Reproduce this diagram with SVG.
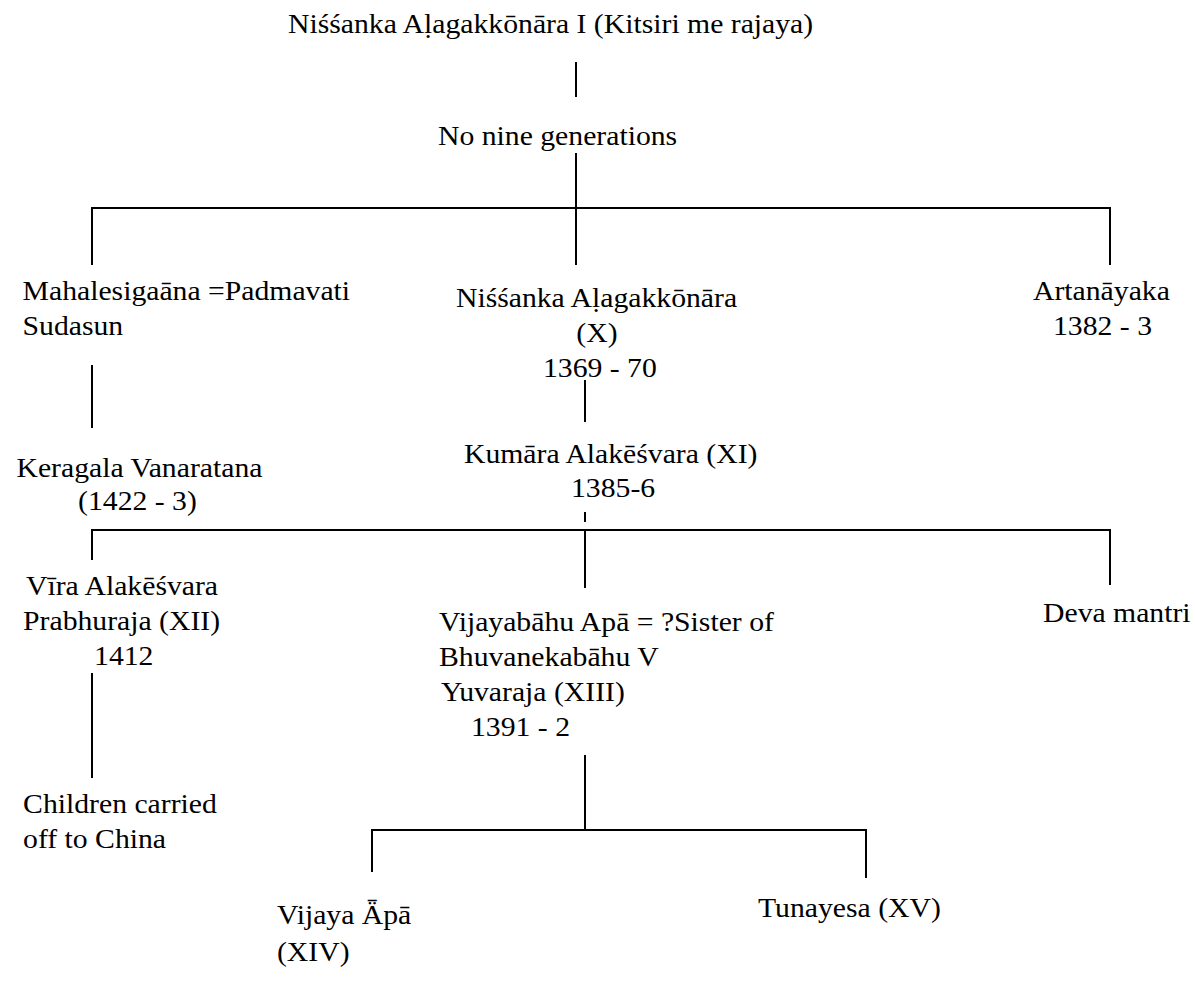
<svg xmlns="http://www.w3.org/2000/svg" width="1195" height="982" viewBox="0 0 1195 982">
<style>
text{font-family:'Liberation Serif','Times New Roman',serif;font-size:27px;fill:#000}
.c{text-anchor:middle}
line{stroke:#000;stroke-width:2}
</style>
<rect width="1195" height="982" fill="#fff"/>
<g id="connectors">
<line x1="576" y1="62" x2="576" y2="97"/>
<line x1="576" y1="153" x2="576" y2="208"/>
<line x1="92" y1="208" x2="1110" y2="208"/>
<line x1="92" y1="207" x2="92" y2="265"/>
<line x1="576" y1="208" x2="576" y2="265"/>
<line x1="1110" y1="207" x2="1110" y2="265"/>
<line x1="92" y1="365" x2="92" y2="428"/>
<line x1="585" y1="380" x2="585" y2="422"/>
<line x1="585" y1="512" x2="585" y2="522"/>
<line x1="92" y1="530" x2="1110" y2="530"/>
<line x1="585" y1="530" x2="585" y2="588"/>
<line x1="92" y1="529" x2="92" y2="560"/>
<line x1="1110" y1="529" x2="1110" y2="585"/>
<line x1="92" y1="673" x2="92" y2="778"/>
<line x1="585" y1="755" x2="585" y2="830"/>
<line x1="372" y1="830" x2="866" y2="830"/>
<line x1="372" y1="829" x2="372" y2="872"/>
<line x1="866" y1="829" x2="866" y2="878"/>
</g>
<g id="n0" transform="scale(1.1 1)"><text x="261.8" y="33">Niśśanka Aḷagakkōnāra I (Kitsiri me rajaya)</text></g>
<g id="n1" transform="scale(1.1 1)"><text x="398.2" y="145">No nine generations</text></g>
<g id="n2" transform="scale(1.1 1)"><text x="20.5" y="300">Mahalesigaāna =Padmavati</text><text x="20.5" y="335">Sudasun</text></g>
<g id="n3" transform="scale(1.1 1)"><text x="414.5" y="307">Niśśanka Aḷagakkōnāra</text><text class="c" x="542.7" y="342">(X)</text><text x="493.6" y="377">1369 - 70</text></g>
<g id="n4" transform="scale(1.1 1)"><text x="939.1" y="300">Artanāyaka</text><text x="957.3" y="335">1382 - 3</text></g>
<g id="n5" transform="scale(1.1 1)"><text x="15" y="477">Keragala Vanaratana</text><text x="71" y="510">(1422 - 3)</text></g>
<g id="n6" transform="scale(1.1 1)"><text x="421.8" y="463">Kumāra Alakēśvara (XI)</text><text x="519.1" y="497">1385-6</text></g>
<g id="n7" transform="scale(1.1 1)"><text x="23.6" y="595">Vīra Alakēśvara</text><text x="21" y="630">Prabhuraja (XII)</text><text x="85.5" y="665">1412</text></g>
<g id="n8" transform="scale(1.1 1)"><text x="21" y="813">Children carried</text><text x="21" y="848">off to China</text></g>
<g id="n9" transform="scale(1.1 1)"><text x="399.1" y="631">Vijayabāhu Apā = ?Sister of</text><text x="399.1" y="666">Bhuvanekabāhu V</text><text x="400.9" y="701">Yuvaraja (XIII)</text><text x="428.2" y="736">1391 - 2</text></g>
<g id="n10" transform="scale(1.1 1)"><text x="948.2" y="622">Deva mantri</text></g>
<g id="n11" transform="scale(1.1 1)"><text x="251.8" y="924">Vijaya Ǟpā</text><text x="251.8" y="961">(XIV)</text></g>
<g id="n12" transform="scale(1.1 1)"><text x="689.1" y="917">Tunayesa (XV)</text></g>
</svg>
